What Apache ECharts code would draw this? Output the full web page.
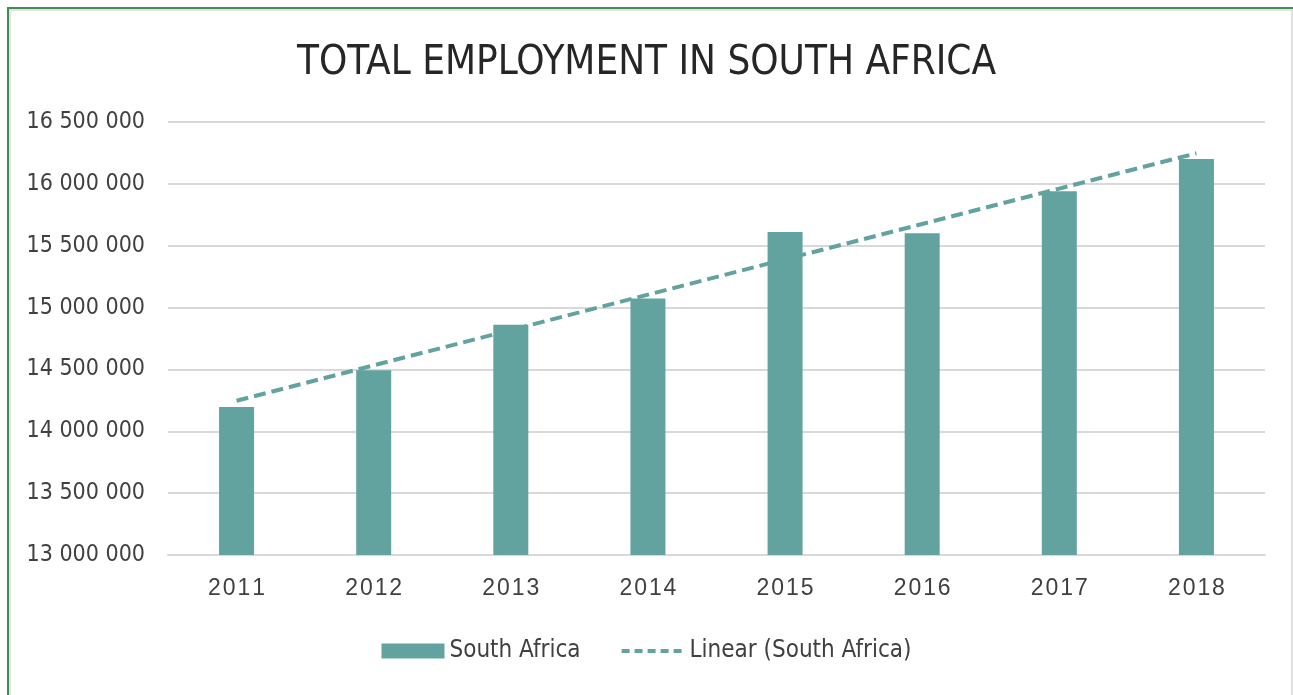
<!DOCTYPE html>
<html>
<head>
<meta charset="utf-8">
<style>
  html, body { margin: 0; padding: 0; background: #ffffff; }
  #chart { width: 1293px; height: 695px; }
</style>
<script src="https://cdn.jsdelivr.net/npm/echarts@6/dist/echarts.min.js"></script>
</head>
<body>
<div id="chart"></div>
<script>
// Total employment in South Africa, by year
const years = ['2011', '2012', '2013', '2014', '2015', '2016', '2017', '2018'];
const employment = [14197000, 14493000, 14862000, 15074000, 15611000, 15600000, 15940000, 16200000];
const yTicks = { min: 13000000, max: 16500000, step: 500000 };

// Ordinary least-squares trend through the yearly values
function linearTrend(values) {
  const n = values.length;
  const mx = (n - 1) / 2;
  const my = values.reduce((a, b) => a + b, 0) / n;
  let sxy = 0, sxx = 0;
  values.forEach((v, i) => { sxy += (i - mx) * (v - my); sxx += (i - mx) * (i - mx); });
  const slope = sxy / sxx;
  return values.map((_, i) => Math.round(my + slope * (i - mx)));
}
const trend = linearTrend(employment);

const teal = '#62a39f';
const textColor = '#404040';
const condensed = '"DejaVu Sans Condensed", "Liberation Sans", sans-serif';

function spaced(v) {
  return String(v).replace(/\B(?=(\d{3})+(?!\d))/g, ' ');
}

const chart = echarts.init(document.getElementById('chart'), null, { renderer: 'canvas' });
chart.setOption({
  backgroundColor: '#ffffff',
  animation: false,
  title: {
    text: 'TOTAL EMPLOYMENT IN SOUTH AFRICA',
    left: 'center',
    top: 39,
    textStyle: { fontFamily: condensed, fontSize: 40, fontWeight: 'normal', color: '#262626' }
  },
  grid: { left: 168, right: 28, top: 122, bottom: 140, containLabel: false },
  legend: {
    bottom: 27,
    left: 'center',
    itemWidth: 63,
    itemHeight: 15,
    itemGap: 39,
    textStyle: { fontFamily: condensed, fontSize: 24, color: textColor },
    data: [
      { name: 'South Africa', icon: 'rect' },
      { name: 'Linear (South Africa)', itemStyle: { opacity: 0 },
        lineStyle: { color: teal, width: 4, type: [8, 5] } }
    ]
  },
  xAxis: {
    type: 'category',
    data: years,
    axisLine: { show: true, lineStyle: { color: '#d9d9d9', width: 2 } },
    axisTick: { show: false },
    axisLabel: { margin: 22, fontFamily: 'Liberation Sans, sans-serif', fontSize: 23, color: textColor,
      formatter: v => v.split('').join('\u200A') }
  },
  yAxis: {
    type: 'value',
    min: yTicks.min,
    max: yTicks.max,
    interval: yTicks.step,
    axisLine: { show: false },
    axisTick: { show: false },
    splitLine: { lineStyle: { color: '#d9d9d9', width: 2 } },
    axisLabel: { margin: 23, fontFamily: condensed, fontSize: 23, color: textColor, formatter: spaced }
  },
  series: [
    {
      name: 'South Africa',
      type: 'bar',
      data: employment,
      barWidth: 35,
      itemStyle: { color: teal }
    },
    {
      name: 'Linear (South Africa)',
      type: 'line',
      data: trend,
      symbol: 'none',
      z: 5,
      lineStyle: { color: teal, width: 4, type: [12, 6] },
      itemStyle: { color: teal }
    }
  ],
  graphic: [
    { type: 'line', shape: { x1: 8, y1: 8, x2: 1293, y2: 8 }, style: { stroke: '#3e8e4f', lineWidth: 2 } },
    { type: 'line', shape: { x1: 8, y1: 10, x2: 1293, y2: 10 }, style: { stroke: '#e2e2e2', lineWidth: 2 } },
    { type: 'line', shape: { x1: 8, y1: 7, x2: 8, y2: 695 }, style: { stroke: '#3e8e4f', lineWidth: 2 } },
    { type: 'line', shape: { x1: 10, y1: 10, x2: 10, y2: 695 }, style: { stroke: '#e2e2e2', lineWidth: 2 } },
    { type: 'line', shape: { x1: 1292, y1: 10, x2: 1292, y2: 695 }, style: { stroke: '#d6d6d6', lineWidth: 1.5 } }
  ]
});
</script>
</body>
</html>
